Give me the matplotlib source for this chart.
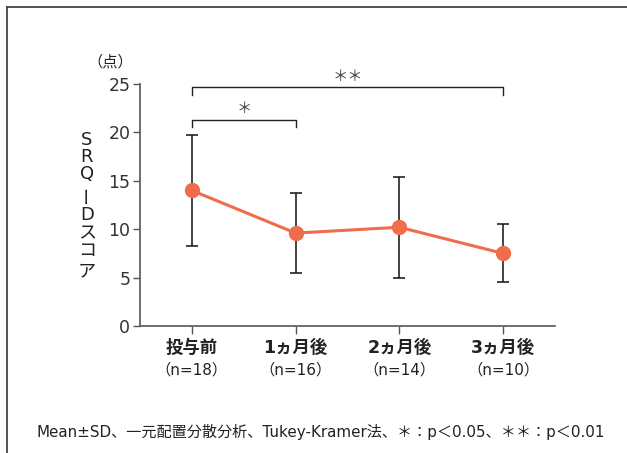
import matplotlib.pyplot as plt
from matplotlib.lines import Line2D

plt.rcParams['font.family'] = ['DejaVu Sans', 'Noto Sans CJK JP']

# values
groups = ['投与前', '1ヵ月後', '2ヵ月後', '3ヵ月後']
n_labels = ['（n=18）', '（n=16）', '（n=14）', '（n=10）']
means = [14.0, 9.6, 10.2, 7.5]
sds = [5.7, 4.1, 5.2, 3.0]
yticks = [0, 5, 10, 15, 20, 25]

line_col = '#EF6C4C'
axis_col = '#555555'
text_col = '#222222'

fig = plt.figure(figsize=(6.27, 4.53), dpi=100)
ax = fig.add_axes([140/627, 1 - 326/453, 415/627, 242/453])

x = list(range(len(groups)))
ax.errorbar(x, means, yerr=sds, fmt='none', ecolor='#111111',
            elinewidth=1.1, capsize=4, capthick=1.1, zorder=2)
ax.plot(x, means, color=line_col, lw=2.2, marker='o', ms=10,
        mec=line_col, mfc=line_col, zorder=3)

ax.set_xlim(-0.5, 3.5)
ax.set_ylim(0, 25)
ax.set_yticks(yticks)
ax.set_xticks(x)
ax.set_xticklabels([])
ax.tick_params(axis='y', length=5, width=1, color=axis_col, labelsize=12.5,
               labelcolor='#333333', pad=2)
ax.tick_params(axis='x', length=6, width=1, color=axis_col)
for s in ['top', 'right']:
    ax.spines[s].set_visible(False)
for s in ['left', 'bottom']:
    ax.spines[s].set_color(axis_col)
    ax.spines[s].set_linewidth(1.2)
ax.patch.set_alpha(0)

# category labels
for xi, g, nl in zip(x, groups, n_labels):
    ax.text(xi, -2.3, g, ha='center', va='center', fontsize=12.5,
            fontweight='bold', color=text_col, clip_on=False)
    ax.text(xi, -4.6, nl, ha='center', va='center', fontsize=11,
            color=text_col, clip_on=False)

# significance brackets
def bracket(x0, x1, y, drop, label):
    ax.plot([x0, x0, x1, x1], [y - drop, y, y, y - drop], color='#222222',
            lw=1, clip_on=False)
    ax.text((x0 + x1) / 2, y + 0.35, label, ha='center', va='bottom',
            fontsize=11, color='#444444', clip_on=False)

bracket(0, 1, 21.3, 0.75, '＊')
bracket(0, 3, 24.65, 0.75, '＊＊')

# unit and vertical axis title (stacked characters, upright)
fig.text(110/627, 1 - 62/453, '（点）', ha='center', va='center',
         fontsize=11, color=text_col)
ylab = ['S', 'R', 'Q', 'ー', 'D', 'ス', 'コ', 'ア']
ylab_pos = [140, 157.5, 174, 195, 215, 233, 251, 271]
for ch, yp in zip(ylab, ylab_pos):
    fig.text(87/627, 1 - yp/453, ch, ha='center', va='center',
             fontsize=13, color=text_col,
             rotation=90 if ch == 'ー' else 0)

fig.text(321/627, 1 - 432/453,
         'Mean±SD、一元配置分散分析、Tukey-Kramer法、＊：p＜0.05、＊＊：p＜0.01',
         ha='center', va='center', fontsize=10.9, color=text_col)

# frame lines on top and left
fig.add_artist(Line2D([7/627, 7/627], [0, 1 - 7/453], color='#444444', lw=1.3))
fig.add_artist(Line2D([7/627, 1], [1 - 7/453, 1 - 7/453], color='#444444', lw=1.3))

fig.savefig('out.png', dpi=100)
